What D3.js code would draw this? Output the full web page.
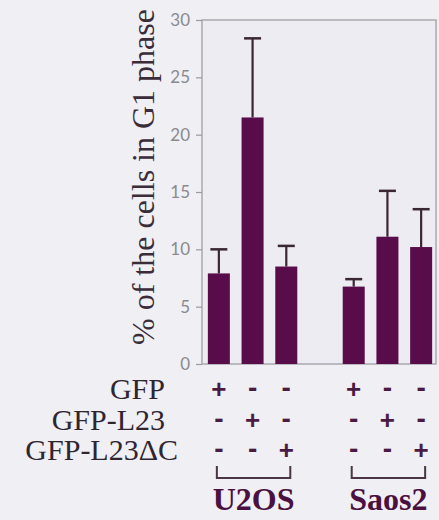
<!DOCTYPE html>
<html>
<head>
<meta charset="utf-8">
<script src="https://cdn.jsdelivr.net/npm/d3@7"></script>
<style>
  html, body { margin: 0; padding: 0; background: #efeff4; }
  svg { display: block; }
</style>
</head>
<body>
<div id="chart"></div>
<script>
// bar slots, the empty one makes the gap between the two cell lines
var slots = ["U2OS-GFP", "U2OS-L23", "U2OS-L23dC", "gap", "Saos2-GFP", "Saos2-L23", "Saos2-L23dC"];
var barKeys = ["U2OS-GFP", "U2OS-L23", "U2OS-L23dC", "Saos2-GFP", "Saos2-L23", "Saos2-L23dC"];
var means = [7.9, 21.5, 8.5, 6.75, 11.1, 10.2];
var errs = [2.1, 6.9, 1.8, 0.65, 4.0, 3.3];
var yTicks = [0, 5, 10, 15, 20, 25, 30];

var rowLabels = ["GFP", "GFP-L23", "GFP-L23\u0394C"];
var rowSigns = [
    ["+", "-", "-", "+", "-", "-"],
    ["-", "+", "-", "-", "+", "-"],
    ["-", "-", "+", "-", "-", "+"]
];
var groups = [
    { name: "U2OS", first: "U2OS-GFP", last: "U2OS-L23dC" },
    { name: "Saos2", first: "Saos2-GFP", last: "Saos2-L23dC" }
];

var svgWidth = 439, svgHeight = 520;
var plot = { left: 202, right: 436, top: 20, bottom: 364 };

var svg = d3.select("#chart").append("svg")
    .attr("width", svgWidth)
    .attr("height", svgHeight);

svg.append("rect")
    .attr("width", svgWidth)
    .attr("height", svgHeight)
    .attr("fill", "#efeff4");

var xscale = d3.scaleBand()
    .domain(slots)
    .range([plot.left, 438])
    .padding(0);

var yscale = d3.scaleLinear()
    .domain([0, 30])
    .range([plot.bottom, plot.top]);

var barW = 22, capW = 17;

// frame
svg.append("rect")
    .attr("x", plot.left)
    .attr("y", plot.top)
    .attr("width", plot.right - plot.left)
    .attr("height", plot.bottom - plot.top)
    .attr("fill", "#ececf2")
    .attr("stroke", "#a9a9ae")
    .attr("stroke-width", 1.5);

// y axis
var yAxis = d3.axisLeft(yscale)
    .tickValues(yTicks)
    .tickSize(6)
    .tickPadding(6);

var gY = svg.append("g")
    .attr("class", "axis--y")
    .attr("transform", "translate(" + plot.left + ",0)")
    .call(yAxis);
gY.select(".domain").remove();
gY.selectAll(".tick line").attr("stroke", "#9a9a9f").attr("stroke-width", 1.2);
gY.selectAll(".tick text")
    .attr("fill", "#8a8a8e")
    .style("font-family", "Lato, 'Open Sans', sans-serif")
    .style("font-size", "17px");

svg.append("text")
    .attr("transform", "translate(154," + 177 + ") rotate(-90)")
    .attr("text-anchor", "middle")
    .attr("fill", "#3a2c38")
    .style("font-family", "'Liberation Serif', 'DejaVu Serif', serif")
    .style("font-size", "32px")
    .text("% of the cells in G1 phase");

var cx = function (k) { return xscale(k) + xscale.bandwidth() / 2; };

// error bars (drawn first, bars on top)
var eb = svg.append("g").attr("class", "errors");
barKeys.forEach(function (k, i) {
    var top = yscale(means[i] + errs[i]);
    eb.append("line")
        .attr("x1", cx(k)).attr("x2", cx(k))
        .attr("y1", yscale(means[i])).attr("y2", top)
        .attr("stroke", "#3b2634").attr("stroke-width", 2.2);
    eb.append("line")
        .attr("x1", cx(k) - capW / 2).attr("x2", cx(k) + capW / 2)
        .attr("y1", top).attr("y2", top)
        .attr("stroke", "#3b2634").attr("stroke-width", 2.5);
});

svg.selectAll(".bar")
    .data(barKeys)
    .enter()
    .append("rect")
    .attr("class", "bar")
    .attr("x", function (k) { return cx(k) - barW / 2; })
    .attr("width", barW)
    .attr("y", function (k, i) { return yscale(means[i]); })
    .attr("height", function (k, i) { return plot.bottom - yscale(means[i]); })
    .attr("fill", "#580c4a");

// condition rows
var rowY = [389, 420, 450];
rowLabels.forEach(function (lab, r) {
    svg.append("text")
        .attr("x", r == 2 ? 178 : 165)
        .attr("y", rowY[r] + 10)
        .attr("text-anchor", "end")
        .attr("fill", "#2f2530")
        .style("font-family", "'Liberation Serif', 'DejaVu Serif', serif")
        .style("font-size", "30px")
        .text(lab);
    rowSigns[r].forEach(function (s, i) {
        svg.append("text")
            .attr("x", cx(barKeys[i]))
            .attr("y", s == "+" ? rowY[r] + 9 : rowY[r] + 8)
            .attr("text-anchor", "middle")
            .attr("fill", "#4a1a42")
            .style("font-family", "'Liberation Sans', Arial, sans-serif")
            .style("font-weight", "bold")
            .style("font-size", s == "+" ? "26px" : "28px")
            .text(s);
    });
});

// group brackets and names
groups.forEach(function (g) {
    var x1 = cx(g.first) - 2, x2 = cx(g.last) + 4;
    svg.append("path")
        .attr("d", "M" + x1 + ",466V478H" + x2 + "V466")
        .attr("fill", "none")
        .attr("stroke", "#4a3446")
        .attr("stroke-width", 2);
    svg.append("text")
        .attr("x", (x1 + x2) / 2)
        .attr("y", 510)
        .attr("text-anchor", "middle")
        .attr("fill", "#4a1040")
        .style("font-family", "'Liberation Serif', 'DejaVu Serif', serif")
        .style("font-weight", "bold")
        .style("font-size", "32px")
        .text(g.name);
});
</script>
</body>
</html>
